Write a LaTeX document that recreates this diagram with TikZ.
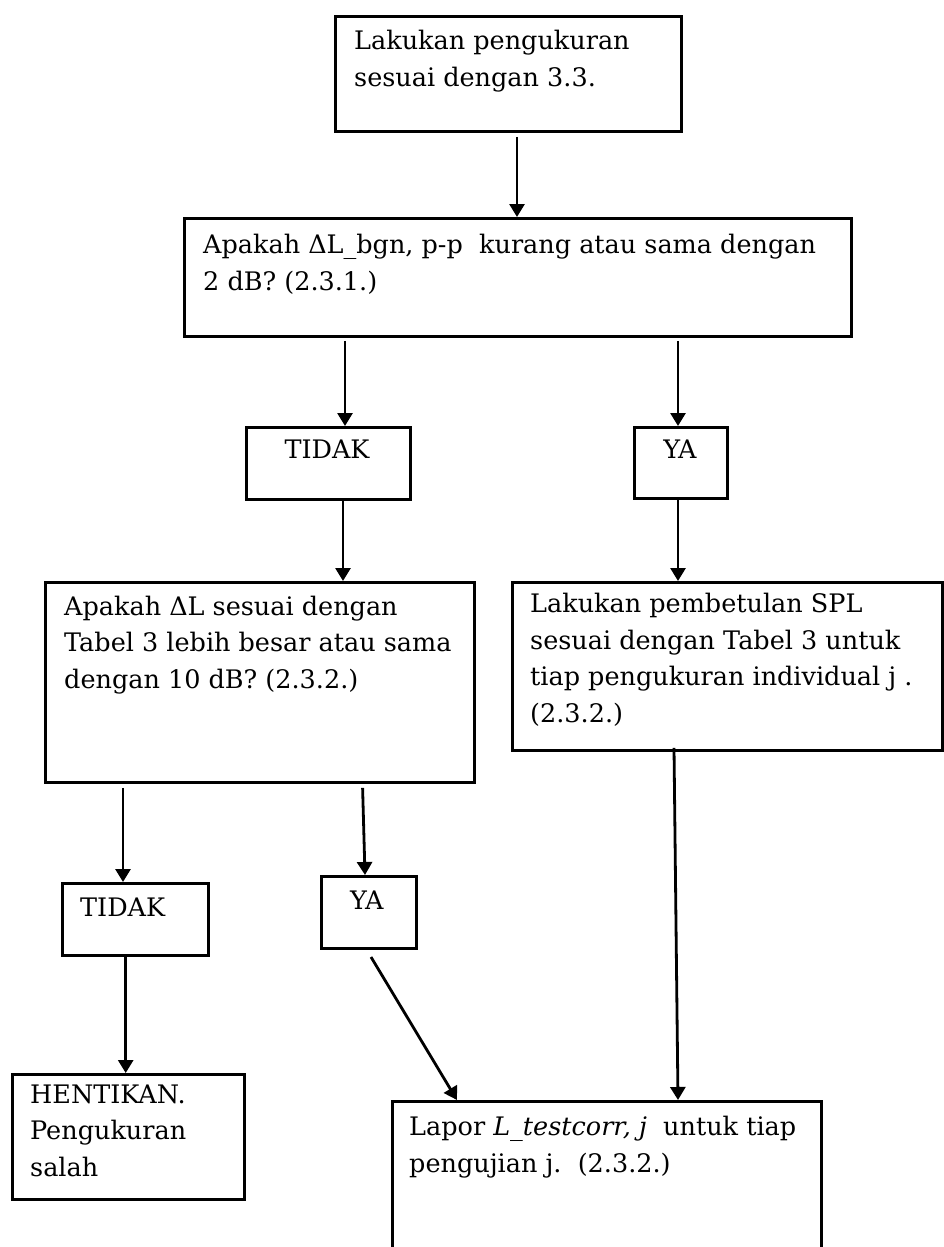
\documentclass[tikz,border=0pt]{standalone}
\usepackage{fontspec}
\setmainfont{DejaVu Serif}
\usetikzlibrary{arrows.meta}

\begin{document}
\begin{tikzpicture}[x=1pt,y=-1pt,
  box/.style={draw,line width=2.8pt,anchor=north west,inner sep=0pt},
  txt/.style={anchor=base west,inner sep=0pt,align=left,font=\fontsize{25.5}{36.5}\selectfont},
  arr/.style={line width=2.8pt,-{Triangle[length=13pt,width=15pt]}}]
\useasboundingbox (0,0) rectangle (943,1247);

% boxes
\node[box,minimum width=346pt,minimum height=115pt] (measure) at (334,15) {};
\node[box,minimum width=667pt,minimum height=118pt] (q1) at (183,217) {};
\node[box,minimum width=164pt,minimum height=72pt] (no1) at (245,426) {};
\node[box,minimum width=93pt,minimum height=71pt] (yes1) at (633,426) {};
\node[box,minimum width=429pt,minimum height=200pt] (q2) at (44,581) {};
\node[box,minimum width=430pt,minimum height=168pt] (fix) at (511,581) {};
\node[box,minimum width=146pt,minimum height=72pt] (no2) at (61,882) {};
\node[box,minimum width=95pt,minimum height=72pt] (yes2) at (320,875) {};
\node[box,minimum width=232pt,minimum height=125pt] (stop) at (11,1073) {};
\node[box,minimum width=429pt,minimum height=170pt] (report) at (391,1100) {};

% texts (anchor is the baseline of the last line)
\node[txt] (measure-t) at (354,86) {Lakukan pengukuran\\sesuai dengan 3.3.};
\node[txt] (q1-t) at (203,290) {Apakah ΔL\_bgn, p-p\ \ kurang atau sama dengan\\2 dB? (2.3.1.)};
\node[txt,anchor=base] (no1-t) at (327,458) {TIDAK};
\node[txt,anchor=base] (yes1-t) at (680,458) {YA};
\node[txt] (q2-t) at (64,688) {Apakah ΔL sesuai dengan\\Tabel 3 lebih besar atau sama\\dengan 10 dB? (2.3.2.)};
\node[txt] (fix-t) at (530,722) {Lakukan pembetulan SPL\\sesuai dengan Tabel 3 untuk\\tiap pengukuran individual j .\\(2.3.2.)};
\node[txt] (no2-t) at (80,916) {TIDAK};
\node[txt] (yes2-t) at (350,909) {YA};
\node[txt] (stop-t) at (30,1176) {HENTIKAN.\\Pengukuran\\salah};
\node[txt] (report-t) at (409,1172) {Lapor \textit{L\_testcorr, j}\ \ untuk tiap\\pengujian j.\ \ (2.3.2.)};

% free end of the slanted arrow
\coordinate (yes2-out) at (371,957);

% connectors
\draw[arr] ([yshift=-4pt]measure.south -| 517,0) -- (q1.north -| 517,0);
\draw[arr] ([yshift=-3pt]q1.south -| 345,0) -- (no1.north -| 345,0);
\draw[arr] ([yshift=-3pt]q1.south -| 678,0) -- (yes1.north -| 678,0);
\draw[arr] (no1.south -| 343,0) -- (q2.north -| 343,0);
\draw[arr] (yes1.south -| 678,0) -- (fix.north -| 678,0);
\draw[arr] ([yshift=-4pt]q2.south -| 123,0) -- (no2.north -| 123,0);
\draw[arr] ([yshift=-4pt]q2.south -| 362.6,0) -- (yes2.north -| 365,0);
\draw[arr] (no2.south -| 125.7,0) -- (stop.north -| 125.7,0);
\draw[arr] (yes2-out) -- (report.north -| 457,0);
\draw[arr] ([yshift=4pt]fix.south -| 674,0) -- (report.north -| 678,0);
\end{tikzpicture}
\end{document}
